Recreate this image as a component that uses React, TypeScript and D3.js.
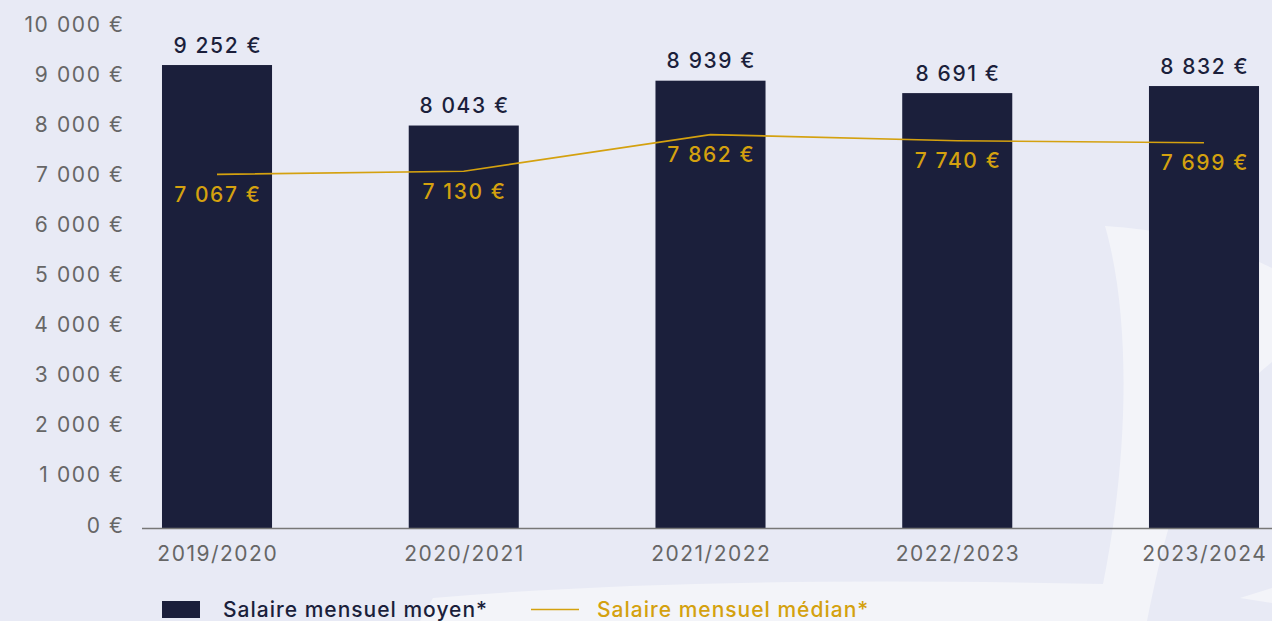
import React from 'react';
import * as d3 from 'd3';

// Chart data
const seasons = ['2019/2020', '2020/2021', '2021/2022', '2022/2023', '2023/2024'];
const meanSalary = [9252, 8043, 8939, 8691, 8832];
const medianSalary = [7067, 7130, 7862, 7740, 7699];
const yTicks = [0, 1000, 2000, 3000, 4000, 5000, 6000, 7000, 8000, 9000, 10000];
const legendLabels = ['Salaire mensuel moyen*', 'Salaire mensuel médian*'];

const W = 1272;
const H = 621;
const NAVY = '#1b1f3b';
const GOLD = '#d4a10f';
const GREY = '#666666';
const BG = '#e8eaf5';
const LIGHT = '#f3f4f9';
const FONT = "Inter, 'Noto Sans', sans-serif";
const NUM_LS = 1.6;

const fr = d3.formatLocale({ decimal: ',', thousands: ' ', grouping: [3], currency: ['', ' €'] });
const euro = (v: number) => fr.format(',')(v) + ' €';

const App: React.FC = () => {
  const y = d3.scaleLinear().domain([0, 10000]).range([528, 27.6]);
  const x = d3.scaleBand<string>()
    .domain(seasons)
    .range([142, 1279])
    .paddingInner(0.554)
    .paddingOuter(0.081);
  const bw = x.bandwidth();
  const cx = (s: string) => (x(s) || 0) + bw / 2;

  const line = d3.line<number>()
    .x((_, i) => cx(seasons[i]))
    .y(d => y(d));

  return (
    <div style={{ position: 'fixed', left: 0, top: 0 }}>
      <svg width={W} height={H} style={{ display: 'block', fontFamily: FONT }}>
        <rect width={W} height={H} fill={BG} />
        {/* decorative background swoosh */}
        <path d="M 420 621 L 433 598 Q 700 575 1103 584 C 1128 460 1132 320 1105 226 Q 1200 232 1272 268 L 1272 362 C 1200 420 1175 480 1147 621 Z" fill={LIGHT} />
        <path d="M 1240 598 L 1272 588 L 1272 603 Z" fill={LIGHT} />

        {yTicks.map(t => (
          <text key={t} x={123 + NUM_LS} y={y(t) - 3} textAnchor="end" dominantBaseline="central"
            fontSize={21} fill={GREY} letterSpacing={NUM_LS}>{euro(t)}</text>
        ))}

        {seasons.map((s, i) => (
          <g key={s}>
            <rect x={x(s)} y={y(meanSalary[i])} width={bw} height={y(0) - y(meanSalary[i])} fill={NAVY} />
            <text x={cx(s) + NUM_LS / 2} y={y(meanSalary[i]) - 20} textAnchor="middle" dominantBaseline="central"
              fontSize={21} fontWeight={500} fill={NAVY} letterSpacing={NUM_LS}>{euro(meanSalary[i])}</text>
            <text x={cx(s) + 0.75} y={553} textAnchor="middle" dominantBaseline="central"
              fontSize={21} fill={GREY} letterSpacing={1.5}>{s}</text>
          </g>
        ))}

        <line x1={142} x2={W} y1={528.5} y2={528.5} stroke="#777" strokeWidth={1.5} />

        <path d={line(medianSalary) || ''} fill="none" stroke={GOLD} strokeWidth={1.6} />
        {seasons.map((s, i) => (
          <text key={s} x={cx(s) + NUM_LS / 2} y={y(medianSalary[i]) + 20} textAnchor="middle" dominantBaseline="central"
            fontSize={21} fontWeight={500} fill={GOLD} letterSpacing={NUM_LS}>{euro(medianSalary[i])}</text>
        ))}

        {/* legend */}
        <rect x={162} y={601} width={38} height={17} fill={NAVY} />
        <text x={223} y={609} dominantBaseline="central" fontSize={21} fontWeight={500} fill={NAVY} letterSpacing={1}>{legendLabels[0]}</text>
        <line x1={531} x2={579} y1={609.5} y2={609.5} stroke={GOLD} strokeWidth={1.5} />
        <text x={597} y={609} dominantBaseline="central" fontSize={21} fontWeight={500} fill={GOLD} letterSpacing={1}>{legendLabels[1]}</text>
      </svg>
    </div>
  );
};

export default App;
